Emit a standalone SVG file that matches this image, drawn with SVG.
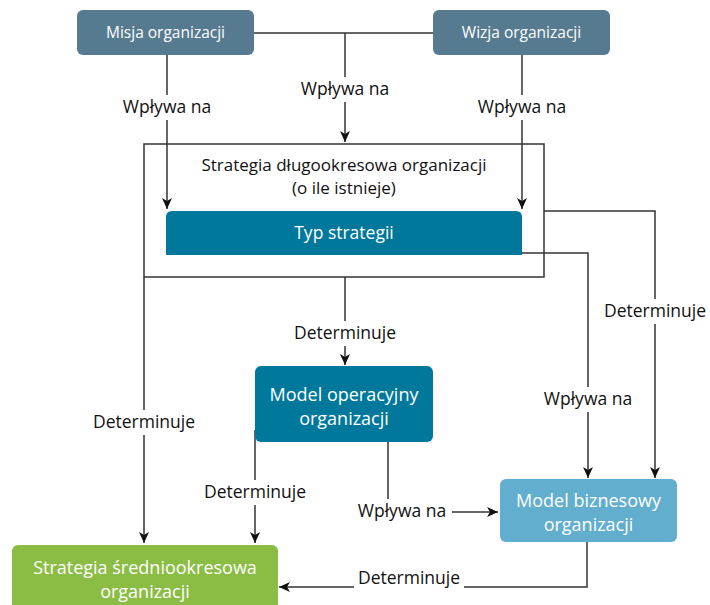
<svg xmlns="http://www.w3.org/2000/svg" width="710" height="605" viewBox="0 0 710 605">
  <defs>
    <marker id="arrow" viewBox="0 0 12 12" markerWidth="12" markerHeight="12" refX="11" refY="6" orient="auto" markerUnits="userSpaceOnUse">
      <path d="M0,1 L11,6 L0,11 L3,6 Z" fill="#111"/>
    </marker>
  </defs>
  <style>
    .node-text { font-family: "Open Sans", "Noto Sans", "DejaVu Sans", sans-serif; fill: #ffffff; text-anchor: middle; font-weight: 500; }
    .dark-text { font-family: "Open Sans", "Noto Sans", "DejaVu Sans", sans-serif; fill: #111; text-anchor: middle; font-weight: 500; }
    .edge { fill: none; stroke: #333; stroke-width: 1.5; }
    .lbl-bg { fill: #ffffff; }
    .lbl { font-family: "Open Sans", "Noto Sans", "DejaVu Sans", sans-serif; font-size: 17.5px; font-weight: 500; fill: #111; text-anchor: middle; }
  </style>

  <!-- connectors -->
  <g id="connectors">
    <path class="edge" d="M254,33 H433"/>
    <path class="edge" d="M345,33 V142" marker-end="url(#arrow)"/>
    <path class="edge" d="M167,55 V209" marker-end="url(#arrow)"/>
    <path class="edge" d="M522,55 V209" marker-end="url(#arrow)"/>
    <path class="edge" d="M345,277 V365" marker-end="url(#arrow)"/>
    <path class="edge" d="M144,277 V543" marker-end="url(#arrow)"/>
    <path class="edge" d="M544,211 H655 V478" marker-end="url(#arrow)"/>
    <path class="edge" d="M522,253 H588 V478" marker-end="url(#arrow)"/>
    <path class="edge" d="M255,430 V543" marker-end="url(#arrow)"/>
    <path class="edge" d="M388,442 V512 H498" marker-end="url(#arrow)"/>
    <path class="edge" d="M587,542 V587 H279" marker-end="url(#arrow)"/>

    <!-- labels -->
    <rect class="lbl-bg" x="294" y="77" width="102" height="25"/>
    <text class="lbl" x="345" y="95">Wpływa na</text>
    <rect class="lbl-bg" x="116" y="95" width="102" height="25"/>
    <text class="lbl" x="167" y="113">Wpływa na</text>
    <rect class="lbl-bg" x="471" y="95" width="102" height="25"/>
    <text class="lbl" x="522" y="113">Wpływa na</text>
    <rect class="lbl-bg" x="286" y="321" width="118" height="25"/>
    <text class="lbl" x="345" y="339">Determinuje</text>
    <rect class="lbl-bg" x="85" y="410" width="118" height="25"/>
    <text class="lbl" x="144" y="428">Determinuje</text>
    <rect class="lbl-bg" x="598" y="299" width="112" height="25"/>
    <text class="lbl" x="655" y="317">Determinuje</text>
    <rect class="lbl-bg" x="537" y="387" width="102" height="25"/>
    <text class="lbl" x="588" y="405">Wpływa na</text>
    <rect class="lbl-bg" x="196" y="480" width="118" height="25"/>
    <text class="lbl" x="255" y="498">Determinuje</text>
    <rect class="lbl-bg" x="352" y="499" width="100" height="25"/>
    <text class="lbl" x="402" y="517">Wpływa na</text>
    <rect class="lbl-bg" x="354" y="566" width="110" height="22"/>
    <text class="lbl" x="409" y="584">Determinuje</text>
  </g>

  <g id="misja">
    <rect x="77" y="10" width="177" height="45" rx="6" fill="#567a8f"/>
    <text class="node-text" x="165.5" y="38" font-size="15.5">Misja organizacji</text>
  </g>

  <g id="wizja">
    <rect x="433" y="10" width="177" height="45" rx="6" fill="#567a8f"/>
    <text class="node-text" x="521.5" y="38" font-size="15.5">Wizja organizacji</text>
  </g>

  <g id="strategia-dlugookresowa">
    <rect x="144" y="144" width="400" height="133" fill="none" stroke="#333" stroke-width="1.5"/>
    <text class="dark-text" x="344" y="171" font-size="17">Strategia długookresowa organizacji</text>
    <text class="dark-text" x="344" y="194" font-size="17">(o ile istnieje)</text>
  </g>

  <g id="typ-strategii">
    <path d="M166,255 V217 Q166,211 172,211 H516 Q522,211 522,217 V255 Z" fill="#00789c"/>
    <text class="node-text" x="344" y="239" font-size="17.5">Typ strategii</text>
  </g>

  <g id="model-operacyjny">
    <rect x="255" y="366" width="178" height="76" rx="6" fill="#00789c"/>
    <text class="node-text" x="344" y="401" font-size="18">Model operacyjny</text>
    <text class="node-text" x="344" y="425" font-size="18">organizacji</text>
  </g>

  <g id="model-biznesowy">
    <rect x="500" y="479" width="177" height="63" rx="6" fill="#62aece"/>
    <text class="node-text" x="588.5" y="507" font-size="18">Model biznesowy</text>
    <text class="node-text" x="588.5" y="531" font-size="18">organizacji</text>
  </g>

  <g id="strategia-sredniookresowa">
    <rect x="12" y="545" width="266" height="70" rx="6" fill="#8bbd45"/>
    <text class="node-text" x="145" y="574" font-size="18">Strategia średniookresowa</text>
    <text class="node-text" x="145" y="598" font-size="18">organizacji</text>
  </g>
</svg>
